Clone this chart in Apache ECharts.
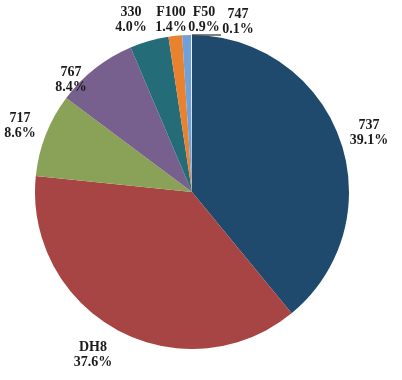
<!DOCTYPE html>
<html><head><meta charset="utf-8">
<script src="https://cdn.jsdelivr.net/npm/echarts@6/dist/echarts.min.js"></script>
<style>html,body{margin:0;padding:0;background:#fff}#c{width:402px;height:380px}</style>
</head><body><div id="c"></div>
<script>
const categories = ['737','DH8','717','767','330','F100','F50','747'];
const shares = [39.1, 37.6, 8.6, 8.4, 4.0, 1.4, 0.9, 0.1];
const percentLabels = ['39.1%','37.6%','8.6%','8.4%','4.0%','1.4%','0.9%','0.1%'];
const colors = ['#1F4A6D','#A64543','#8AA257','#78608E','#246D78','#E9822F','#6FA0D8','#F2F2F2'];

// label placement (text-block centres), layout only
const labelPos = [[369,133],[93,355],[20,126],[71,80],[131,20],[171,20],[204,20],[238,22]];

const chart = echarts.init(document.getElementById('c'), null, {renderer:'canvas'});
const data = categories.map((c,i)=>({
  name:c, value:shares[i],
  itemStyle:{color:colors[i]},
  labelLine:{show: i===7}
}));
chart.setOption({
  animation:false,
  series:[{
    type:'pie',
    center:[192,192],
    radius:157,
    startAngle:90,
    clockwise:true,
    avoidLabelOverlap:false,
    data,
    itemStyle:{borderWidth:0},
    emphasis:{disabled:true},
    label:{
      position:'outside',
      formatter:(p)=>p.name+'\n'+percentLabels[p.dataIndex],
      fontFamily:'Liberation Serif',
      fontWeight:'bold',
      fontSize:14,
      lineHeight:15,
      color:'#1a1a1a',
      align:'center'
    },
    labelLine:{length:6,length2:4,lineStyle:{color:'#000',width:1}},
    labelLayout:(p)=>{
      const i = p.dataIndex;
      const r = {x:labelPos[i][0], y:labelPos[i][1], align:'center', verticalAlign:'middle'};
      if (i===7) r.labelLinePoints = [[192,35],[206,35],[221,35]];
      return r;
    }
  }]
});
</script></body></html>
